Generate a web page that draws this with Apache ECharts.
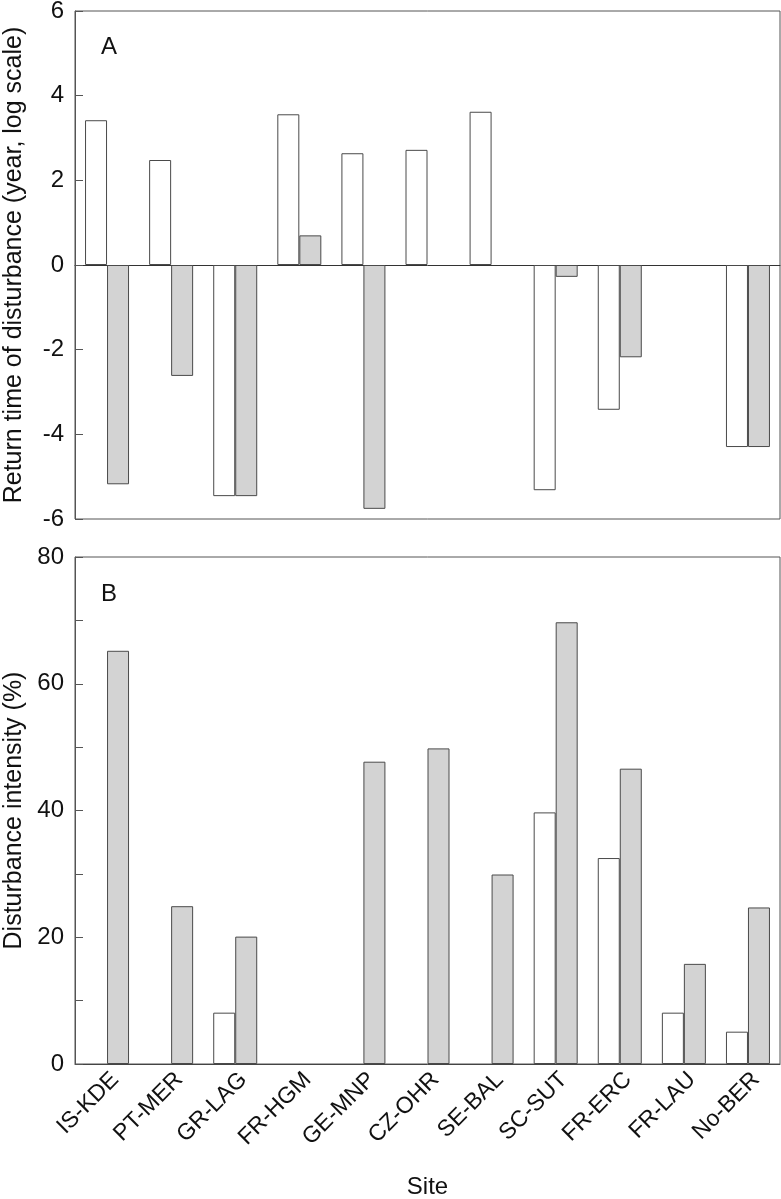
<!DOCTYPE html>
<html>
<head>
<meta charset="utf-8">
<script src="https://cdn.jsdelivr.net/npm/echarts@6/dist/echarts.min.js"></script>
<style>
  html, body { margin: 0; padding: 0; background: #fff; }
  #chart { width: 781px; height: 1199px; }
</style>
</head>
<body>
<div id="chart"></div>
<script>
// sites along the x axis
var sites = ['IS-KDE', 'PT-MER', 'GR-LAG', 'FR-HGM', 'GE-MNP', 'CZ-OHR', 'SE-BAL', 'SC-SUT', 'FR-ERC', 'FR-LAU', 'No-BER'];

// panel A: return time of disturbance (log scale), '-' = no bar
var returnWhite = [3.42, 2.48, -5.46, 3.56, 2.64, 2.72, 3.62, -5.32, -3.42, '-', -4.30];
var returnGrey = [-5.18, -2.62, -5.46, 0.70, -5.76, '-', '-', -0.28, -2.18, '-', -4.30];

// panel B: disturbance intensity (%)
var intensityWhite = ['-', '-', 8.1, '-', '-', '-', '-', 39.7, 32.5, 8.1, 5.1];
var intensityGrey = [65.2, 24.9, 20.1, '-', 47.7, 49.8, 29.9, 69.7, 46.6, 15.8, 24.7];

var fontName = 'Liberation Sans, Arial, sans-serif';
var textColor = '#111';
var edge = '#4a4a4a';

var chart = echarts.init(document.getElementById('chart'));

function barSeries(data, fill, idx) {
  return {
    type: 'bar',
    data: data,
    xAxisIndex: idx,
    yAxisIndex: idx,
    barWidth: 22,
    barGap: '0%',
    itemStyle: { color: fill, borderColor: edge, borderWidth: 1 },
    silent: true
  };
}

var option = {
  animation: false,
  backgroundColor: '#fff',
  textStyle: { fontFamily: fontName },
  grid: [
    { left: 75, top: 11, width: 705, height: 508, show: true, borderColor: '#555', borderWidth: 1, outerBoundsMode: 'none', containLabel: false },
    { left: 75, top: 557, width: 705, height: 507, show: true, borderColor: '#555', borderWidth: 1, outerBoundsMode: 'none', containLabel: false }
  ],
  xAxis: [
    {
      type: 'category', gridIndex: 0, data: sites,
      axisLine: { onZero: true, lineStyle: { color: '#333', width: 1 } },
      axisTick: { show: false },
      axisLabel: { show: false }
    },
    {
      type: 'category', gridIndex: 1, data: sites,
      name: 'Site', nameLocation: 'middle', nameGap: 111,
      nameTextStyle: { fontSize: 24, color: textColor, fontFamily: fontName },
      axisLine: { lineStyle: { color: '#444', width: 1 } },
      axisTick: { show: false },
      axisLabel: {
        rotate: 45, fontSize: 23, color: textColor, margin: 4, interval: 0,
        verticalAlign: 'top', fontFamily: fontName
      }
    }
  ],
  yAxis: [
    {
      type: 'value', gridIndex: 0, min: -6, max: 6, interval: 2,
      name: 'Return time of disturbance (year, log scale)',
      nameLocation: 'middle', nameGap: 48,
      nameTextStyle: { fontSize: 25, color: textColor, fontFamily: fontName },
      axisLine: { show: true, lineStyle: { color: '#555' } },
      axisTick: { show: true, inside: true, length: 8, lineStyle: { color: '#555' } },
      axisLabel: { fontSize: 24, color: textColor, margin: 11, fontFamily: fontName },
      splitLine: { show: false }
    },
    {
      type: 'value', gridIndex: 1, min: 0, max: 80, interval: 10,
      name: 'Disturbance intensity (%)',
      nameLocation: 'middle', nameGap: 48,
      nameTextStyle: { fontSize: 25, color: textColor, fontFamily: fontName },
      axisLine: { show: true, lineStyle: { color: '#555' } },
      axisTick: { show: true, inside: true, length: 8, lineStyle: { color: '#555' } },
      axisLabel: {
        fontSize: 24, color: textColor, margin: 11, fontFamily: fontName,
        formatter: function (v) { return v % 20 === 0 ? String(v) : ''; }
      },
      splitLine: { show: false }
    }
  ],
  graphic: [
    { type: 'text', left: 101, top: 35, style: { text: 'A', fontSize: 24, fill: textColor, fontFamily: fontName } },
    { type: 'text', left: 101, top: 582, style: { text: 'B', fontSize: 24, fill: textColor, fontFamily: fontName } }
  ],
  series: [
    barSeries(returnWhite, '#ffffff', 0),
    barSeries(returnGrey, '#d3d3d3', 0),
    barSeries(intensityWhite, '#ffffff', 1),
    barSeries(intensityGrey, '#d3d3d3', 1)
  ]
};

chart.setOption(option);
</script>
</body>
</html>
